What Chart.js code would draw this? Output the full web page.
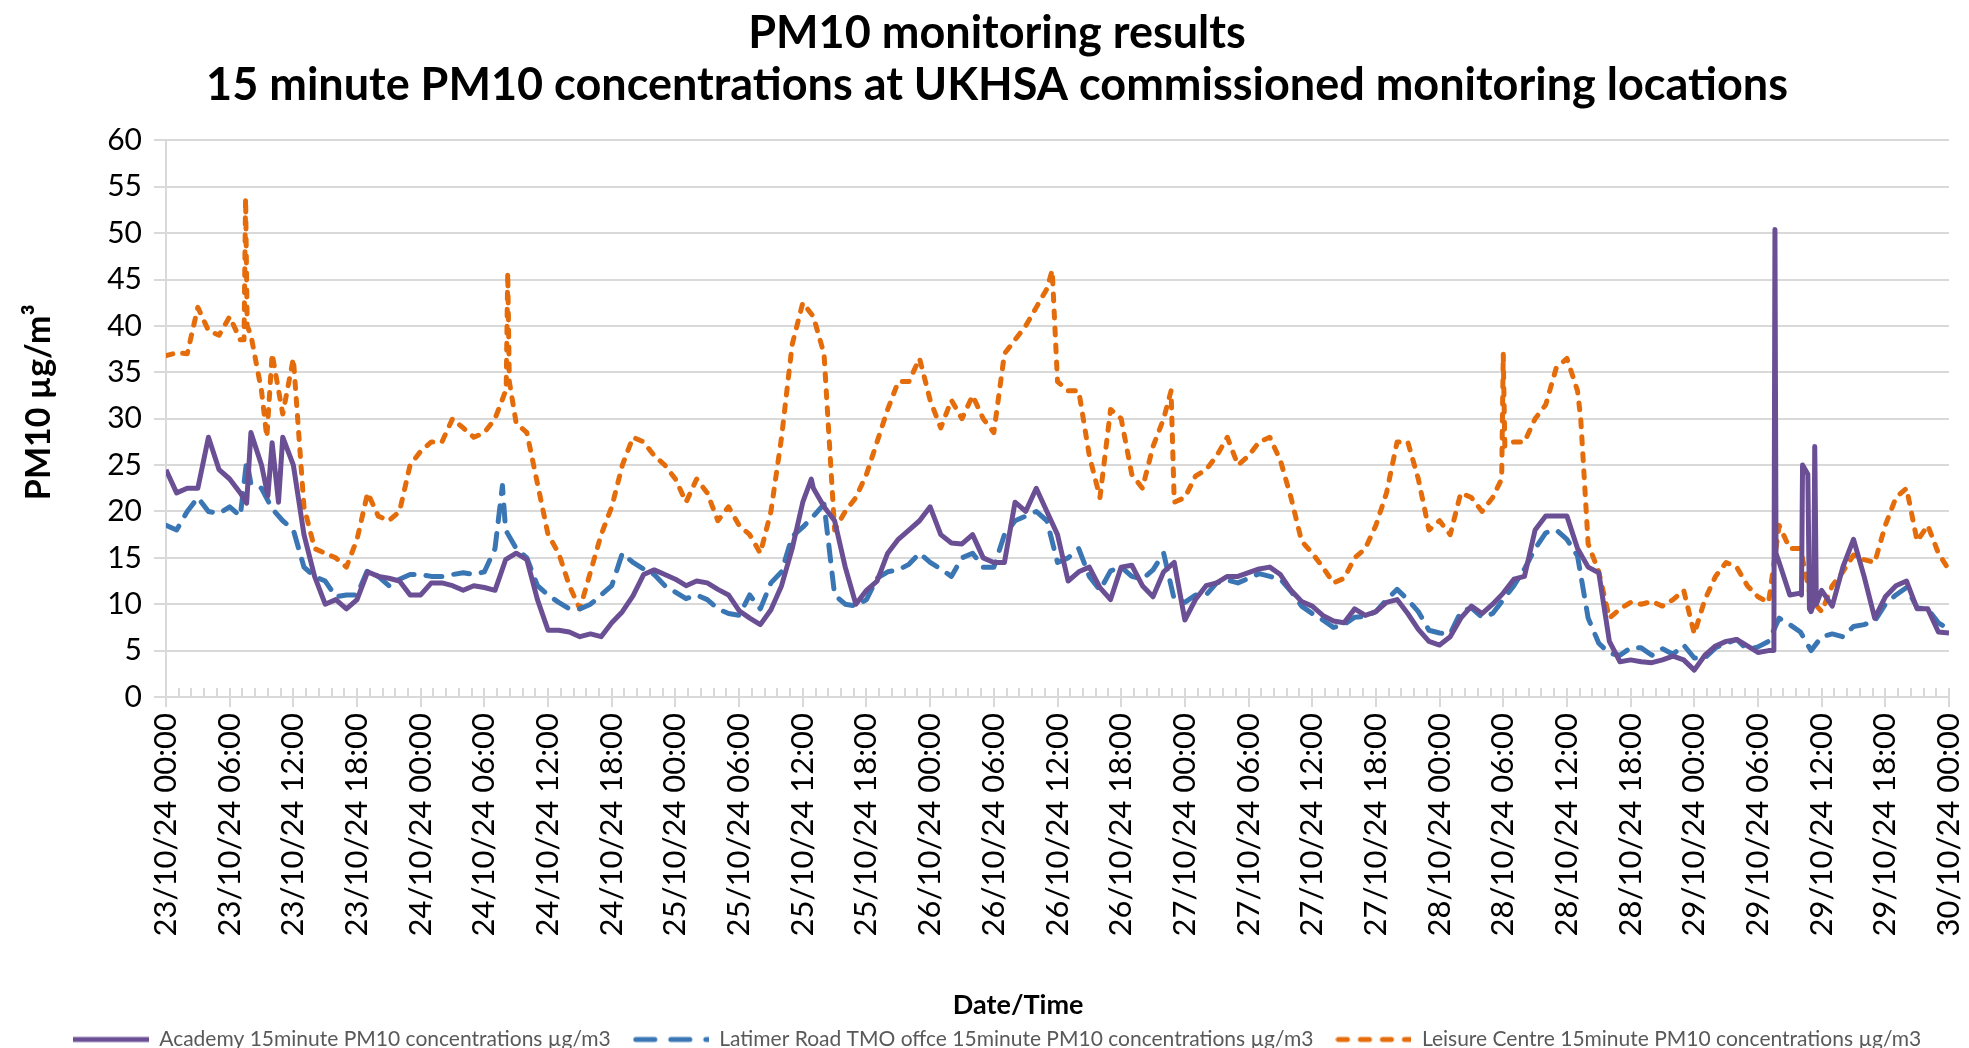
<!DOCTYPE html>
<html>
<head>
<meta charset="utf-8">
<script src="https://cdn.jsdelivr.net/npm/chart.js@4.4.1/dist/chart.umd.min.js"></script>
<style>
  html, body { margin: 0; padding: 0; background: #fff; }
</style>
</head>
<body>
<canvas id="chart" width="1969" height="1048"></canvas>
<script>
// hourly readings, hour 0 = 23/10/24 00:00, hour 168 = 30/10/24 00:00
const academy = [
  24.5, 22, 22.5, 22.5, 28, 24.5, 23.5, 22, 28.5, 25, 27.4, 28, 25, 17.5, 13, 10, 10.5, 9.5, 10.5, 13.5, 13, 12.8, 12.5, 11,
  11, 12.3, 12.3, 12, 11.5, 12, 11.8, 11.5, 14.8, 15.5, 14.8, 10.5, 7.2, 7.2, 7, 6.5, 6.8, 6.5, 8, 9.2, 10.9, 13.2, 13.7, 13.2,
  12.7, 12, 12.5, 12.3, 11.6, 11, 9.3, 8.5, 7.8, 9.4, 12, 16, 21, 22.5, 20.5, 19, 14, 10, 11.5, 12.5, 15.5, 17, 18, 19,
  20.5, 17.5, 16.6, 16.5, 17.5, 15, 14.5, 14.5, 21, 20, 22.5, 20, 17.5, 12.5, 13.5, 14, 11.8, 10.5, 14, 14.2, 12, 10.8, 13.5, 14.5,
  8.3, 10.5, 12, 12.3, 13, 13, 13.4, 13.8, 14, 13.2, 11.5, 10.3, 9.8, 8.8, 8.2, 8, 9.5, 8.8, 9.2, 10.2, 10.5, 9, 7.3, 6,
  5.6, 6.5, 8.5, 9.8, 9, 10, 11.2, 12.7, 13, 18, 19.5, 19.5, 19.5, 16, 14, 13.4, 6, 3.8, 4, 3.8, 3.7, 4, 4.4, 4,
  2.9, 4.5, 5.5, 6, 6.2, 5.5, 4.8, 5, 14.5, 11, 11.2, 9.2, 11.5, 9.8, 14, 17, 13, 8.5, 10.8, 12, 12.5, 9.5, 9.5, 7,
  6.9
];
const latimer = [
  18.5, 18, 20, 21.5, 20, 19.8, 20.5, 19.5, 23, 22.5, 20.3, 19, 18, 14, 13, 12.5, 10.8, 11, 11, 13.7, 13, 12, 12.7, 13.2,
  13.2, 13, 13, 13.2, 13.4, 13.2, 13.5, 16, 18, 16, 15, 12, 11, 10.2, 9.5, 9.5, 10, 11, 12, 15.5, 14.5, 13.8, 13.2, 12,
  11.3, 10.6, 11, 10.5, 9.5, 9, 8.8, 11, 9.5, 12.3, 13.5, 17.3, 18.3, 19.5, 20.8, 11, 10, 9.8, 10.5, 12.8, 13.5, 13.7, 14.3, 15.5,
  14.5, 13.8, 13, 15, 15.5, 14, 14, 17.5, 19, 19.5, 20, 19, 14.5, 15, 16, 13, 11.5, 13.6, 14, 13, 12.7, 13.7, 15.5, 10.5,
  10.2, 11, 11, 12.3, 12.6, 12.3, 12.8, 13.3, 13, 12.7, 11.4, 9.8, 9, 8.3, 7.5, 7.8, 8.6, 8.7, 9.2, 10.5, 11.6, 10.5, 9.2, 7.2,
  6.9, 6.8, 9.2, 9.6, 8.6, 9, 10.5, 12, 13.8, 16, 17.7, 18, 17, 15.2, 8.5, 5.8, 4.7, 4.5, 5.3, 5.3, 4.5, 5.2, 4.6, 5.6,
  4.2, 4.2, 5.3, 5.8, 6.2, 5.1, 5.4, 6, 8.5, 7.8, 7, 5, 6.5, 6.8, 6.5, 7.6, 7.8, 8.2, 10, 11, 11.8, 9.6, 9.5, 8,
  7.3
];
const leisure = [
  36.8, 37.1, 37, 42, 39.5, 39, 41, 38.5, 39, 33, 37, 30.5, 36.5, 20.5, 16, 15.5, 15, 14, 17, 22, 19.5, 19, 20, 25,
  26.5, 27.5, 27.5, 30, 29, 28, 28.5, 30, 33, 29.5, 28.5, 23, 17.5, 15.5, 12, 9.5, 13.5, 17.5, 20.5, 25, 28, 27.5, 26, 25,
  23.5, 21, 23.5, 22, 19, 20.5, 18.5, 17.5, 15.5, 20, 28, 38, 42.5, 41, 37, 18, 20, 21.5, 24, 27.5, 31, 34, 34, 36.5,
  32, 29, 32, 30, 32.5, 30, 28.5, 37, 38.5, 40, 42, 44, 34, 33, 33, 26, 21.5, 31, 30, 24, 22.5, 27, 30, 21,
  21.5, 23.8, 24.5, 26, 28, 25, 26, 27.5, 28, 25.5, 21.5, 16.8, 15.5, 14, 12.3, 12.8, 15, 16, 18.5, 22, 27.5, 27.5, 23.5, 18,
  19, 17.5, 22, 21.5, 20, 21.5, 37, 27.5, 27.5, 30, 31.5, 35.5, 36.5, 33, 16.5, 13.5, 8.5, 9.5, 10.2, 10, 10.3, 9.8, 10.5, 11.5,
  6.8, 10.5, 13, 14.5, 14, 12, 10.8, 10.2, 18.5, 16, 16, 10.5, 9.2, 12, 13.5, 15.3, 14.8, 14.5, 18.5, 21.5, 22.5, 16.8, 18.5, 15.5,
  13.7
];
// short-lived peaks read between the hourly points: [hour, value]
const academyPeaks = [[7.6, 20.9], [9.6, 21.7], [10.6, 21], [60.8, 23.5], [151.5, 5], [151.6, 50.4], [151.7, 15.5],
  [154.1, 11], [154.2, 25], [154.7, 24], [154.85, 9.5], [155.25, 10], [155.35, 27], [155.5, 10]];
const latimerPeaks = [[7.6, 25.5], [31.7, 22.8]];
const leisurePeaks = [[7.35, 38.5], [7.5, 53.8], [7.65, 40], [9.5, 28], [32.05, 33], [32.2, 45.8], [32.35, 34],
  [83.5, 46], [94.7, 33], [125.85, 23.5], [126.15, 27], [133.3, 30]];

const seriesNames = [
  'Academy 15minute PM10 concentrations \u00b5g/m3',
  'Latimer Road TMO offce 15minute PM10 concentrations \u00b5g/m3',
  'Leisure Centre 15minute PM10 concentrations \u00b5g/m3'
];
const colors = ['#6a4f94', '#3a76b4', '#e46c0a'];
const dashes = [[], [16, 12], [7, 10]];
const startDay = 23;

function buildPoints(values, peaks) {
  const pts = values.map((v, i) => ({ x: i, y: v }));
  peaks.forEach(([x, y]) => pts.push({ x, y }));
  return pts.sort((a, b) => a.x - b.x);
}

function legendSample(color, dash) {
  const c = document.createElement('canvas');
  c.width = 76; c.height = 8;
  const g = c.getContext('2d');
  g.strokeStyle = color;
  g.lineWidth = 5;
  g.lineCap = dash.length ? 'round' : 'butt';
  g.setLineDash(dash);
  g.beginPath();
  g.moveTo(dash.length ? 3 : 0, 4);
  g.lineTo(76, 4);
  g.stroke();
  return c;
}

const minorTicks = {
  id: 'minorTicks',
  beforeDatasetsDraw(chart) {
    const { ctx, scales: { x, y } } = chart;
    const y0 = y.getPixelForValue(0);
    ctx.save();
    ctx.strokeStyle = '#d9d9d9';
    ctx.lineWidth = 2;
    ctx.beginPath();
    for (let i = 0; i <= 140; i++) {
      const px = Math.round(x.getPixelForValue(i * 1.2));
      ctx.moveTo(px, y0);
      ctx.lineTo(px, y0 - 9);
    }
    ctx.stroke();
    ctx.restore();
  }
};

const datasets = [academy, latimer, leisure].map((vals, i) => ({
  label: seriesNames[i],
  data: buildPoints(vals, [academyPeaks, latimerPeaks, leisurePeaks][i]),
  borderColor: colors[i],
  backgroundColor: colors[i],
  borderWidth: 5,
  borderDash: dashes[i],
  borderCapStyle: dashes[i].length ? 'round' : 'butt',
  borderJoinStyle: 'round',
  pointRadius: 0,
  tension: 0,
  fill: false
}));

Chart.defaults.font.family = 'Lato, "Noto Sans", sans-serif';
Chart.defaults.color = '#000';

// non-breaking spaces nudge the axis titles to where the original sits
const nb = (n) => '\u00a0'.repeat(n);

new Chart(document.getElementById('chart'), {
  type: 'line',
  data: { datasets },
  plugins: [minorTicks],
  options: {
    responsive: false,
    animation: false,
    layout: { padding: { left: 45, right: 20, top: 7, bottom: -12 } },
    plugins: {
      title: {
        display: true,
        text: ['PM10 monitoring results', '15 minute PM10 concentrations at UKHSA commissioned monitoring locations'],
        font: { size: 45, weight: 'bold', lineHeight: 1.16 },
        color: '#000',
        padding: { top: 0, bottom: 29 }
      },
      legend: {
        position: 'bottom',
        labels: {
          usePointStyle: true,
          pointStyleWidth: 76,
          font: { size: 21 },
          color: '#595959',
          padding: 22,
          generateLabels: (chart) => chart.data.datasets.map((ds, i) => ({
            text: ds.label,
            pointStyle: legendSample(colors[i], [[], [19, 16], [9, 13]][i]),
            fillStyle: colors[i],
            strokeStyle: colors[i],
            lineWidth: 0,
            datasetIndex: i,
            fontColor: '#595959'
          }))
        }
      },
      tooltip: { enabled: false }
    },
    scales: {
      x: {
        type: 'linear',
        min: 0,
        max: 168,
        afterFit: (scale) => { scale.height = 310; scale.paddingRight = 0; },
        grid: { display: true, drawOnChartArea: false, color: '#d9d9d9', lineWidth: 2, tickLength: 10 },
        border: { color: '#d9d9d9', width: 2 },
        ticks: {
          stepSize: 6,
          autoSkip: false,
          maxRotation: 90,
          minRotation: 90,
          padding: 6,
          font: { size: 31 },
          color: '#000',
          callback: (v) => {
            const day = startDay + Math.floor(v / 24);
            const hh = String(v % 24).padStart(2, '0');
            return day + '/10/24 ' + hh + ':00';
          }
        },
        title: {
          display: true,
          text: 'Date/Time' + nb(12),
          font: { size: 27, weight: 'bold' },
          color: '#000',
          padding: { top: 0, bottom: -14 }
        }
      },
      y: {
        min: 0,
        max: 60,
        afterFit: (scale) => { scale.width = 121; },
        grid: { color: '#d9d9d9', lineWidth: 2, tickLength: 12 },
        border: { color: '#d9d9d9', width: 2 },
        ticks: { stepSize: 5, padding: 12, font: { size: 30 }, color: '#000' },
        title: {
          display: true,
          text: nb(4) + 'PM10 \u00b5g/m\u00b3',
          font: { size: 34, weight: 'bold' },
          color: '#000',
          padding: { top: -26, bottom: 0 }
        }
      }
    }
  }
});
</script>
</body>
</html>
